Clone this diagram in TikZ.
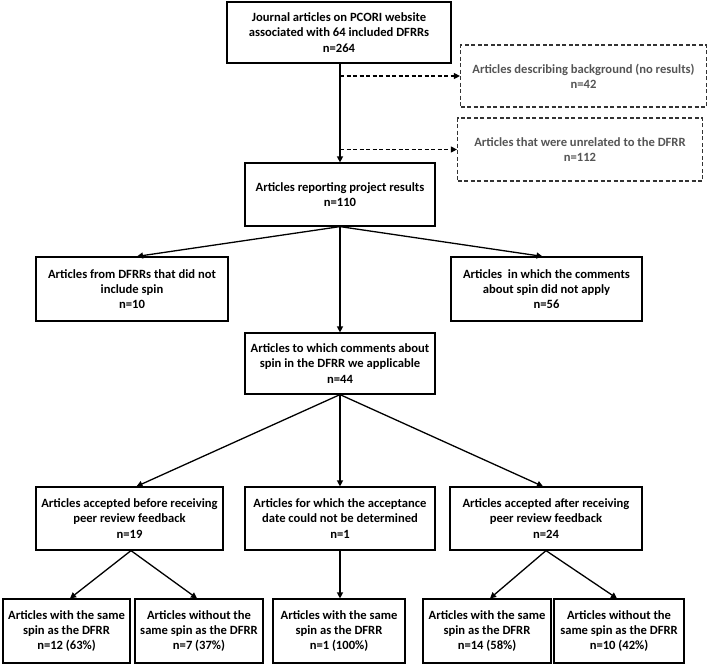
\documentclass[tikz,border=0pt]{standalone}
\usepackage{fontspec}
\setmainfont{Carlito}
\usetikzlibrary{arrows.meta}
\definecolor{dgray}{HTML}{333333}
\definecolor{tgray}{HTML}{555555}
\begin{document}
\begin{tikzpicture}[x=1pt,y=-1pt,
  box/.style={draw=black, line width=1.2pt, align=center, inner sep=0pt,
    font=\fontsize{12.6}{15.2}\selectfont\bfseries, text=black},
  dbox/.style={draw=dgray, line width=1.2pt, dash pattern=on 4pt off 2.5pt, align=center, inner sep=0pt,
    font=\fontsize{12.6}{15.2}\selectfont\bfseries, text=tgray},
  arr/.style={line width=1.3pt, -{Triangle[length=6pt,width=6pt]}},
  darr/.style={line width=1.2pt, dash pattern=on 4pt off 2.5pt, -{Triangle[length=6pt,width=6pt]}}]
\useasboundingbox (0,0) rectangle (709,665);
\fill[white] (0,0) rectangle (709,665);

\node[box, minimum width=224pt, minimum height=61pt] (top) at (339,32.5)
  {Journal articles on PCORI website\\associated with 64 included DFRRs\\n=264};
\node[dbox, minimum width=246pt, minimum height=62pt] (d1) at (583.5,76)
  {Articles describing background (no results)\\n=42};
\node[dbox, minimum width=245pt, minimum height=63pt] (d2) at (580,149.5)
  {Articles that were unrelated to the DFRR\\n=112};
\node[box, minimum width=190pt, minimum height=63pt] (rep) at (340,194.5)
  {Articles reporting project results\\n=110};
\node[box, minimum width=192pt, minimum height=64pt] (l1) at (132,289)
  {Articles from DFRRs that did not\\include spin\\n=10};
\node[box, minimum width=191pt, minimum height=64pt] (r1) at (546.5,289)
  {Articles\ \ in which the comments\\about spin did not apply\\n=56};
\node[box, minimum width=190pt, minimum height=61pt] (mid) at (340,363.5)
  {Articles to which comments about\\spin in the DFRR we applicable\\n=44};
\node[box, minimum width=187pt, minimum height=63pt] (l3) at (129.5,518.5)
  {Articles accepted before receiving\\peer review feedback\\n=19};
\node[box, minimum width=190pt, minimum height=63pt] (m3) at (340,518.5)
  {Articles for which the acceptance\\date could not be determined\\n=1};
\node[box, minimum width=192pt, minimum height=63pt] (r3) at (546,518.5)
  {Articles accepted after receiving\\peer review feedback\\n=24};
\node[box, minimum width=127pt, minimum height=64pt] (b1) at (66.5,631)
  {Articles with the same\\spin as the DFRR\\n=12 (63\%)};
\node[box, minimum width=128pt, minimum height=64pt] (b2) at (199,631)
  {Articles without the\\same spin as the DFRR\\n=7 (37\%)};
\node[box, minimum width=132pt, minimum height=64pt] (b3) at (339,631)
  {Articles with the same\\spin as the DFRR\\n=1 (100\%)};
\node[box, minimum width=128pt, minimum height=64pt] (b4) at (487,631)
  {Articles with the same\\spin as the DFRR\\n=14 (58\%)};
\node[box, minimum width=130pt, minimum height=64pt] (b5) at (619,631)
  {Articles without the\\same spin as the DFRR\\n=10 (42\%)};

\draw[arr] ([xshift=1pt]top.south) -- ([xshift=0pt]rep.north);
\draw[darr] ([xshift=1pt]top.south |- d1.west) -- (d1.west);
\draw[darr] ([xshift=1pt]top.south |- d2.west) -- (d2.west);

\draw[arr] (rep.south) -- ([xshift=5pt]l1.north);
\draw[arr] (rep.south) -- ([xshift=-4pt]r1.north);
\draw[arr] (rep.south) -- (mid.north);

\draw[arr] (mid.south) -- ([xshift=7pt]l3.north);
\draw[arr] (mid.south) -- (m3.north);
\draw[arr] (mid.south) -- ([xshift=-3pt]r3.north);

\draw[arr] ([xshift=1.5pt]l3.south) -- ([xshift=3.5pt]b1.north);
\draw[arr] ([xshift=1.5pt]l3.south) -- ([xshift=-2pt]b2.north);
\draw[arr] (m3.south) -- ([xshift=1pt]b3.north);
\draw[arr] (r3.south) -- ([xshift=3pt]b4.north);
\draw[arr] (r3.south) -- ([xshift=-2pt]b5.north);
\end{tikzpicture}
\end{document}
